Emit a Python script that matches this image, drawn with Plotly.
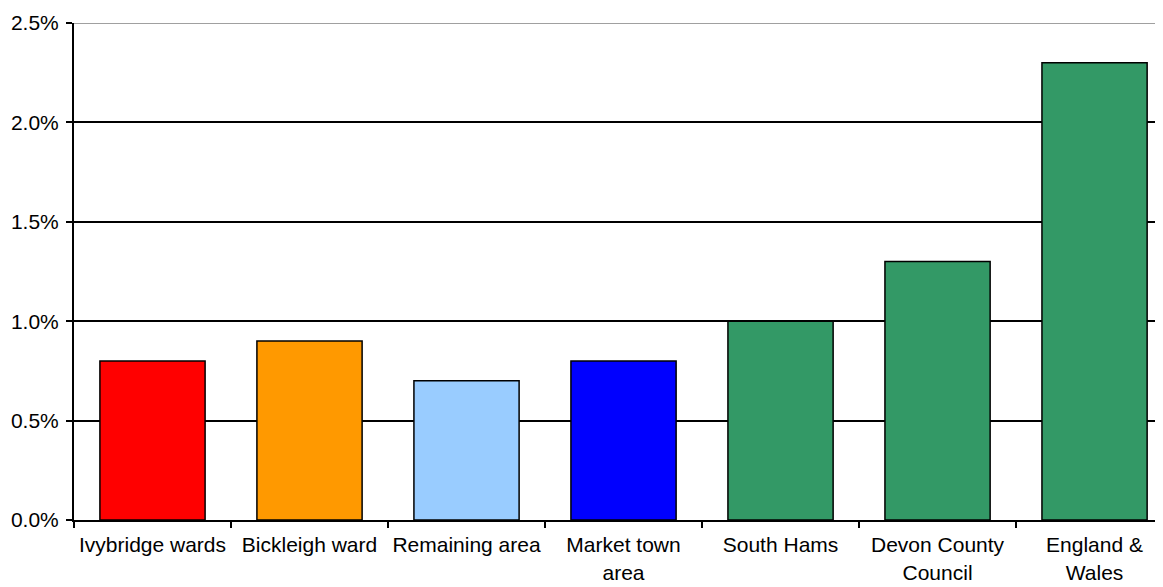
import plotly.graph_objects as go

categories = ["Ivybridge wards", "Bickleigh ward", "Remaining area", "Market town<br>area",
              "South Hams", "Devon County<br>Council", "England &<br>Wales"]
values = [0.008, 0.009, 0.007, 0.008, 0.010, 0.013, 0.023]
colors = ["#FF0000", "#FF9900", "#99CCFF", "#0000FF", "#339966", "#339966", "#339966"]
y_ticks = [0, 0.005, 0.010, 0.015, 0.020, 0.025]

fig = go.Figure()
fig.add_trace(go.Bar(
    x=categories, y=values,
    marker=dict(color=colors, line=dict(color="black", width=1.5)),
    width=0.67,
))

# page body has an 8px margin; figure sized/offset to compensate
fig.update_layout(
    width=1155, height=579,
    margin=dict(l=66, r=0, t=15, b=67, autoexpand=False),
    paper_bgcolor="white", plot_bgcolor="white",
    showlegend=False,
    font=dict(family="Liberation Sans, Arial, sans-serif", size=21, color="black"),
)
fig.update_xaxes(
    range=[-0.5, 6.436],
    showline=True, linecolor="black", linewidth=2,
    ticks="outside", tickson="boundaries", ticklen=6, tickcolor="black", tickwidth=1.5,
    showgrid=False, automargin=False, tickangle=0, ticklabelstandoff=5,
    tickfont=dict(size=21),
)
fig.update_yaxes(
    range=[0, 0.025], tickvals=y_ticks, tickformat=".1%",
    showline=True, linecolor="black", linewidth=2,
    ticks="outside", ticklen=6, tickcolor="black", tickwidth=1.5,
    showgrid=True, gridcolor="black", gridwidth=1.5,
    zeroline=False, automargin=False, ticklabelstandoff=3,
    tickfont=dict(size=21),
)
fig.add_shape(type="line", xref="paper", yref="y", x0=0, x1=1, y0=0.025, y1=0.025,
              line=dict(color="#808080", width=1.5))

fig.write_html("out.html")
